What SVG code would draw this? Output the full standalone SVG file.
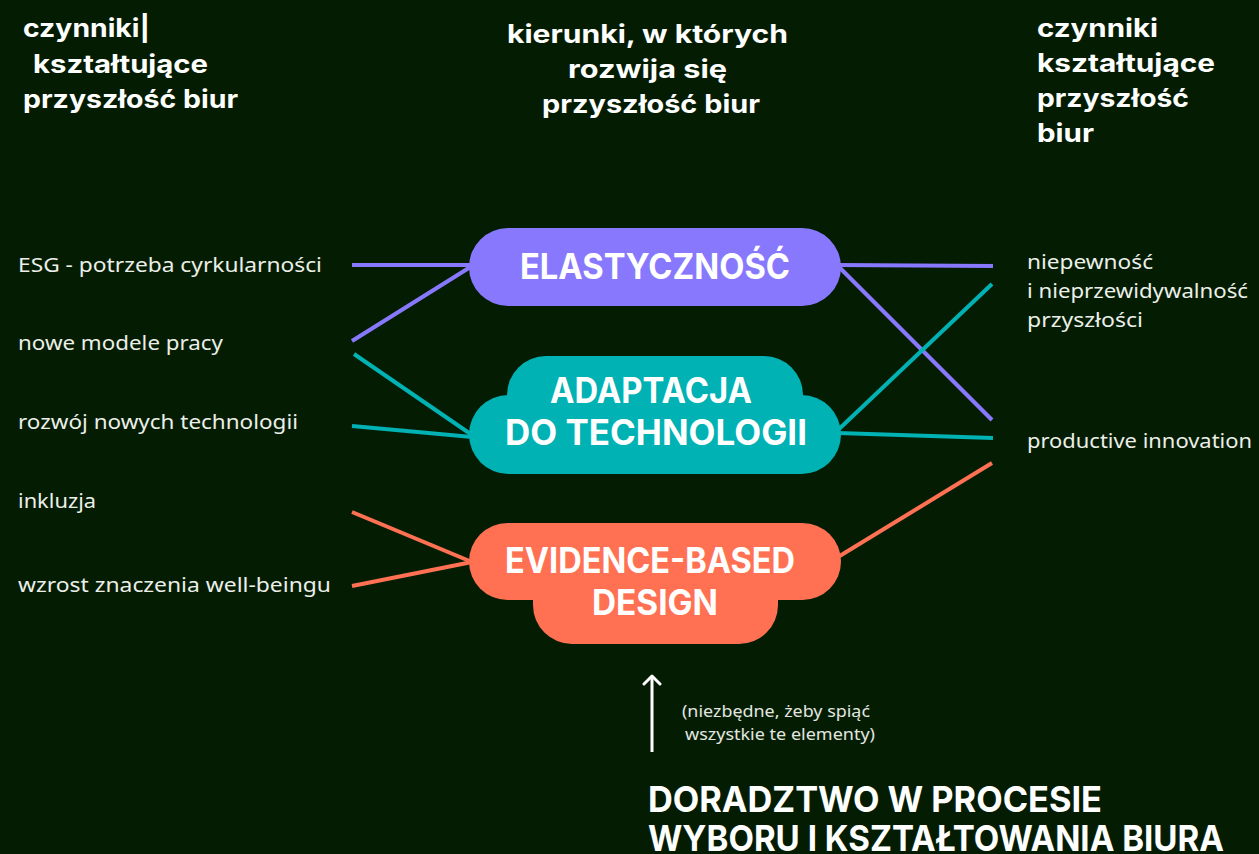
<svg xmlns="http://www.w3.org/2000/svg" width="1259" height="854" viewBox="0 0 1259 854">
<defs>
<style>
.bg{fill:#041d02}
.h{font-family:Inter,"Open Sans","DejaVu Sans",sans-serif;font-weight:700;font-size:25px;fill:#ffffff}
.n{font-family:Inter,"Open Sans","DejaVu Sans",sans-serif;font-weight:700;font-size:35px;fill:#ffffff;text-anchor:middle}
.lb{font-family:"Noto Sans","Open Sans","DejaVu Sans",sans-serif;font-weight:400;font-size:20px;fill:#ecefe9}
.sm{font-family:"Noto Sans","Open Sans","DejaVu Sans",sans-serif;font-weight:400;font-size:16px;fill:#e3e6e0}
.big{font-family:Inter,"Open Sans","DejaVu Sans",sans-serif;font-weight:700;font-size:36px;fill:#ffffff}
.cp{stroke:#8878fd;stroke-width:4;fill:none}
.ct{stroke:#00b2b4;stroke-width:4;fill:none}
.co{stroke:#ff7152;stroke-width:4;fill:none}
</style>
<marker id="arr" markerWidth="20" markerHeight="20" refX="11" refY="10" orient="auto" markerUnits="userSpaceOnUse" viewBox="0 0 20 20">
<path d="M3,2 L11,10 L3,18" fill="none" stroke="#ffffff" stroke-width="3" stroke-linecap="round" stroke-linejoin="round"/>
</marker>
</defs>
<rect class="bg" x="0" y="0" width="1259" height="854"/>

<g id="headers">
<text class="h" x="23" y="37" textLength="127" lengthAdjust="spacingAndGlyphs">czynniki|</text>
<text class="h" x="33" y="73" textLength="175" lengthAdjust="spacingAndGlyphs">kształtujące</text>
<text class="h" x="23" y="108" textLength="215" lengthAdjust="spacingAndGlyphs">przyszłość biur</text>
<text class="h" x="507" y="43" textLength="281" lengthAdjust="spacingAndGlyphs">kierunki, w których</text>
<text class="h" x="568" y="78" textLength="159" lengthAdjust="spacingAndGlyphs">rozwija się</text>
<text class="h" x="542" y="113" textLength="218" lengthAdjust="spacingAndGlyphs">przyszłość biur</text>
<text class="h" x="1037" y="37" textLength="121" lengthAdjust="spacingAndGlyphs">czynniki</text>
<text class="h" x="1037" y="72" textLength="178" lengthAdjust="spacingAndGlyphs">kształtujące</text>
<text class="h" x="1037" y="107" textLength="152" lengthAdjust="spacingAndGlyphs">przyszłość</text>
<text class="h" x="1037" y="142" textLength="57" lengthAdjust="spacingAndGlyphs">biur</text>
</g>

<g id="connectors">
<line class="cp" x1="352" y1="265" x2="472" y2="265"/>
<line class="cp" x1="352" y1="341" x2="472" y2="266"/>
<line class="cp" x1="838" y1="265" x2="993" y2="266"/>
<line class="cp" x1="838" y1="266" x2="992" y2="420"/>
<line class="ct" x1="354" y1="354" x2="472" y2="435"/>
<line class="ct" x1="352" y1="426" x2="472" y2="437"/>
<line class="ct" x1="838" y1="433" x2="993" y2="438"/>
<line class="ct" x1="838" y1="430" x2="992" y2="284"/>
<line class="co" x1="352" y1="512" x2="472" y2="562"/>
<line class="co" x1="352" y1="586" x2="472" y2="562"/>
<line class="co" x1="838" y1="557" x2="992" y2="463"/>
</g>

<g id="left-labels">
<text class="lb" x="18" y="272" textLength="304" lengthAdjust="spacingAndGlyphs">ESG - potrzeba cyrkularności</text>
<text class="lb" x="18" y="350" textLength="205" lengthAdjust="spacingAndGlyphs">nowe modele pracy</text>
<text class="lb" x="18" y="429" textLength="280" lengthAdjust="spacingAndGlyphs">rozwój nowych technologii</text>
<text class="lb" x="18" y="508" textLength="78" lengthAdjust="spacingAndGlyphs">inkluzja</text>
<text class="lb" x="18" y="592" textLength="313" lengthAdjust="spacingAndGlyphs">wzrost znaczenia well-beingu</text>
</g>

<g id="right-labels">
<text class="lb" x="1027" y="269" textLength="126" lengthAdjust="spacingAndGlyphs">niepewność</text>
<text class="lb" x="1027" y="298" textLength="221" lengthAdjust="spacingAndGlyphs">i nieprzewidywalność</text>
<text class="lb" x="1027" y="327" textLength="116" lengthAdjust="spacingAndGlyphs">przyszłości</text>
<text class="lb" x="1027" y="448" textLength="225" lengthAdjust="spacingAndGlyphs">productive innovation</text>
</g>

<g id="node-elastycznosc">
<rect x="469" y="228" width="372" height="78" rx="39" fill="#8878fd"/>
<text class="n" x="655" y="279" textLength="270" lengthAdjust="spacingAndGlyphs">ELASTYCZNOŚĆ</text>
</g>

<g id="node-adaptacja">
<rect x="507" y="356" width="296" height="80" rx="39" fill="#00b2b4"/>
<rect x="469" y="395" width="372" height="79" rx="39.5" fill="#00b2b4"/>
<text class="n" x="651" y="403" textLength="202" lengthAdjust="spacingAndGlyphs">ADAPTACJA</text>
<text class="n" x="656" y="445" textLength="302" lengthAdjust="spacingAndGlyphs">DO TECHNOLOGII</text>
</g>

<g id="node-evidence">
<rect x="469" y="523" width="372" height="77" rx="38.5" fill="#ff7152"/>
<rect x="533" y="560" width="245" height="84" rx="39" fill="#ff7152"/>
<text class="n" x="650" y="573" textLength="290" lengthAdjust="spacingAndGlyphs">EVIDENCE-BASED</text>
<text class="n" x="655" y="615" textLength="126" lengthAdjust="spacingAndGlyphs">DESIGN</text>
</g>

<g id="doradztwo">
<line x1="652" y1="752" x2="652" y2="676" stroke="#ffffff" stroke-width="3" marker-end="url(#arr)"/>
<text class="sm" x="682" y="717" textLength="188" lengthAdjust="spacingAndGlyphs">(niezbędne, żeby spiąć</text>
<text class="sm" x="685" y="740" textLength="190" lengthAdjust="spacingAndGlyphs">wszystkie te elementy)</text>
<text class="big" x="648" y="812" textLength="454" lengthAdjust="spacingAndGlyphs">DORADZTWO W PROCESIE</text>
<text class="big" x="648" y="851" textLength="576" lengthAdjust="spacingAndGlyphs">WYBORU I KSZTAŁTOWANIA BIURA</text>
</g>
</svg>
